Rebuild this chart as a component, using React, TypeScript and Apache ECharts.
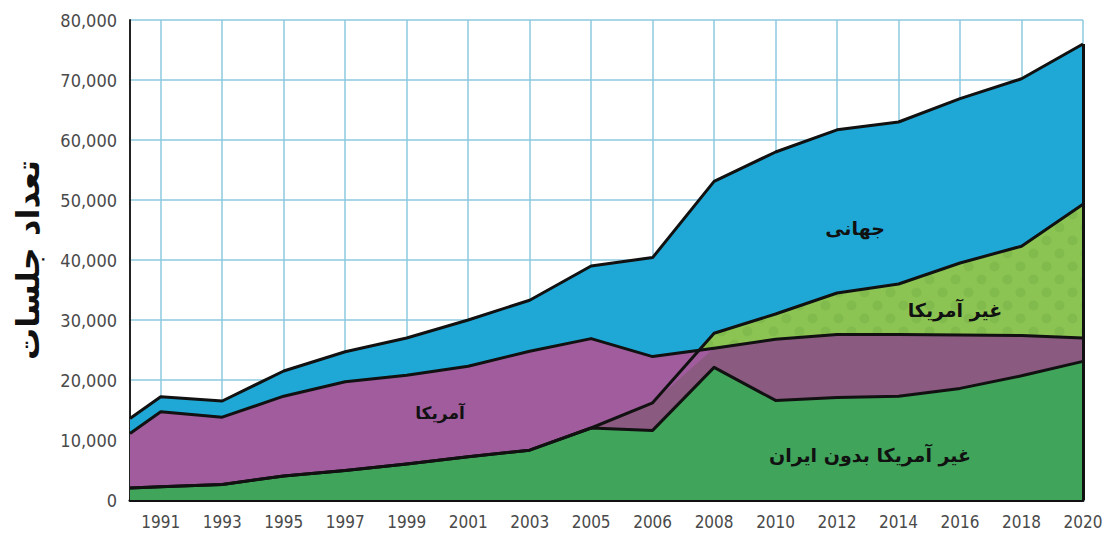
import React, { useEffect, useRef } from "react";
import * as echarts from "echarts";

const years = ["1990", "1991", "1993", "1995", "1997", "1999", "2001", "2003", "2005", "2006", "2008", "2010", "2012", "2014", "2016", "2018", "2020"];
const total = [13600, 17200, 16500, 21500, 24700, 27000, 30000, 33300, 39000, 40400, 53100, 58000, 61700, 63000, 66900, 70200, 76000];
const usa = [11100, 14700, 13800, 17300, 19700, 20800, 22300, 24800, 26900, 23900, 25300, 26800, 27600, 27600, 27500, 27400, 27000];
const nonUsa = [2000, 2200, 2600, 4000, 4900, 6000, 7200, 8300, 12000, 16200, 27800, 31000, 34500, 36000, 39500, 42300, 49300];
const nonUsaNoIran = [2000, 2200, 2600, 4000, 4900, 6000, 7200, 8300, 12000, 11600, 22100, 16600, 17100, 17300, 18600, 20700, 23100];

const C = {
  blue: "#1fa8d6",
  lightGreen: "#8cc453",
  purple: "#a05c9d",
  mauve: "#8a5a80",
  green: "#40a45b",
  grid: "#8ccae0",
};

function xOf(i: number) {
  return i === 0 ? -0.5 : i - 1;
}

function pts(arr: number[]) {
  return arr.map((v, i) => [xOf(i), v]);
}

function dotPattern(bg: string, dot: string) {
  const c = document.createElement("canvas");
  c.width = 26;
  c.height = 26;
  const g = c.getContext("2d")!;
  g.fillStyle = bg;
  g.fillRect(0, 0, 26, 26);
  g.fillStyle = dot;
  g.beginPath();
  g.arc(6.5, 6.5, 5, 0, Math.PI * 2);
  g.fill();
  g.beginPath();
  g.arc(19.5, 19.5, 5, 0, Math.PI * 2);
  g.fill();
  return { image: c, repeat: "repeat" } as any;
}

export default function App() {
  const ref = useRef<HTMLDivElement>(null);
  useEffect(() => {
    document.body.style.margin = "0";
    const chart = echarts.init(ref.current!, undefined, { renderer: "svg" });
    const overlap = usa.map((v, i) => Math.min(v, nonUsa[i]));
    const labelFont = "'Liberation Sans Narrow', 'DejaVu Sans Condensed', Arial, sans-serif";
    const faFont = "'DejaVu Sans', sans-serif";
    const areaSeries = (name: string, data: number[], color: any, z: number) => ({
      name,
      type: "line",
      data: pts(data),
      symbol: "none",
      silent: true,
      z,
      lineStyle: { width: 0 },
      areaStyle: { color, opacity: 1 },
    });
    const lineSeries = (name: string, data: number[], extra: any = {}) => ({
      name,
      type: "line",
      data: pts(data),
      symbol: "none",
      silent: true,
      z: 10,
      lineStyle: { color: "#111", width: 3, join: "round" },
      ...extra,
    });
    const last = years.length - 1;
    chart.setOption({
      animation: false,
      grid: { left: 130, right: 33, top: 20, bottom: 38, containLabel: false, outerBoundsMode: "none" },
      xAxis: {
        type: "value",
        min: -0.5,
        max: 15,
        interval: 0.5,
        axisLine: { show: true, onZero: false, lineStyle: { color: "#111", width: 3 } },
        axisTick: { show: false },
        splitLine: { show: false },
        axisLabel: {
          margin: 13,
          fontSize: 17,
          color: "#4a4a4a",
          fontFamily: labelFont,
          showMinLabel: false,
          formatter: (v: number) => {
            if (Math.abs(v - Math.round(v)) > 1e-6 || v < 0) return "";
            return years[Math.round(v) + 1] ?? "";
          },
        },
      },
      yAxis: {
        type: "value",
        min: 0,
        max: 80000,
        interval: 10000,
        name: "تعداد جلسات",
        nameLocation: "middle",
        nameRotate: 90,
        nameGap: 86,
        nameTextStyle: { fontSize: 32, fontWeight: "bold", color: "#111", fontFamily: faFont },
        axisLine: { show: true, onZero: false, lineStyle: { color: "#222", width: 2 } },
        axisTick: { show: false },
        splitLine: { show: true, lineStyle: { color: C.grid, width: 1.5 } },
        axisLabel: {
          margin: 13,
          fontSize: 18,
          color: "#4a4a4a",
          fontFamily: labelFont,
          formatter: (v: number) => v.toLocaleString("en-US"),
        },
      },
      series: [
        {
          type: "line",
          data: [],
          z: 0,
          silent: true,
          markLine: {
            z: 0.5,
            silent: true,
            symbol: "none",
            label: { show: false },
            lineStyle: { color: C.grid, width: 1.5, type: "solid" },
            data: years.slice(1).map((_, i) => ({ xAxis: i })),
          },
        },
        areaSeries("جهانی", total, C.blue, 1),
        areaSeries("غیر آمریکا", nonUsa, dotPattern(C.lightGreen, "#82bb4d"), 2),
        areaSeries("آمریکا", usa, C.purple, 3),
        areaSeries("overlap", overlap, C.mauve, 4),
        areaSeries("غیر آمریکا بدون ایران", nonUsaNoIran, C.green, 5),
        lineSeries("l-total", total, {
          markLine: {
            z: 20,
            silent: true,
            symbol: "none",
            label: { show: false },
            lineStyle: { color: "#111", width: 3, type: "solid" },
            data: [[{ coord: [xOf(last), 0] }, { coord: [xOf(last), total[last]] }]],
          },
        }),
        lineSeries("l-nonusa", nonUsa),
        lineSeries("l-usa", usa),
        lineSeries("l-green", nonUsaNoIran),
      ],
      graphic: [
        { type: "text", x: 855, y: 228, z: 100, style: { text: "جهانی", fontSize: 19, fontWeight: "bold", fill: "#111", align: "center", verticalAlign: "middle", fontFamily: faFont } },
        { type: "text", x: 955, y: 310, z: 100, style: { text: "غیر آمریکا", fontSize: 19, fontWeight: "bold", fill: "#111", align: "center", verticalAlign: "middle", fontFamily: faFont } },
        { type: "text", x: 440, y: 413, z: 100, style: { text: "آمریکا", fontSize: 17, fontWeight: "bold", fill: "#111", align: "center", verticalAlign: "middle", fontFamily: faFont } },
        { type: "text", x: 870, y: 455, z: 100, style: { text: "غیر آمریکا بدون ایران", fontSize: 19, fontWeight: "bold", fill: "#111", align: "center", verticalAlign: "middle", fontFamily: faFont } },
      ],
    });
    return () => chart.dispose();
  }, []);
  return <div ref={ref} style={{ position: "absolute", left: 0, top: 0, width: 1116, height: 538 }} />;
}
